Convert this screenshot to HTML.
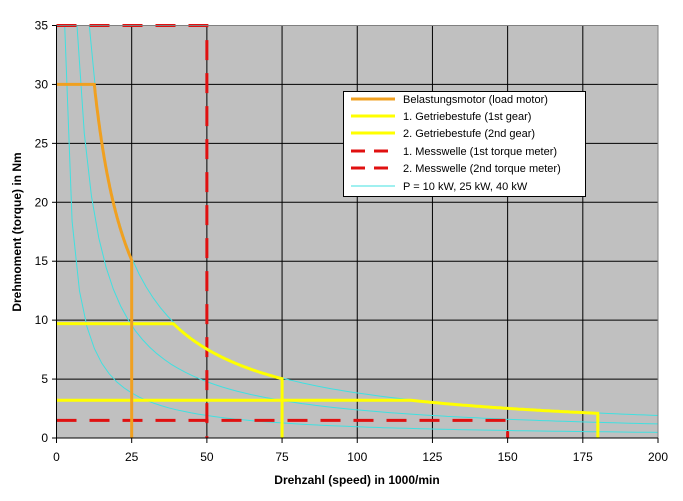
<!DOCTYPE html>
<html><head><meta charset="utf-8"><style>
html,body{margin:0;padding:0;background:#fff;}
svg{display:block;font-family:"Liberation Sans",Arial,sans-serif;}
</style></head><body>
<svg id="s" width="683" height="501" viewBox="0 0 683 501" xmlns="http://www.w3.org/2000/svg">
<rect x="56.5" y="25.5" width="601.5" height="412.5" fill="#c0c0c0"/>
<g id="grid" stroke="#000" stroke-width="1"></g>
<g id="curves" fill="none"></g>
<rect x="56.5" y="25.5" width="601.5" height="412.5" fill="none" stroke="#808080" stroke-width="1"/>
<g id="ticks" font-size="12" fill="#000"></g>
<text x="357" y="484" font-size="12" font-weight="bold" text-anchor="middle">Drehzahl (speed) in 1000/min</text>
<text transform="translate(21,232) rotate(-90)" font-size="12" font-weight="bold" text-anchor="middle">Drehmoment (torque) in Nm</text>
<g>
<rect x="343.5" y="91.5" width="242" height="105" fill="#fff" stroke="#000"/>
<line x1="351" y1="99" x2="395" y2="99" stroke="#f0a020" stroke-width="3"/>
<line x1="351" y1="116" x2="395" y2="116" stroke="#ffff00" stroke-width="3"/>
<line x1="351" y1="133" x2="395" y2="133" stroke="#ffff00" stroke-width="3"/>
<line x1="351" y1="151" x2="395" y2="151" stroke="#e01010" stroke-width="3" stroke-dasharray="14,9"/>
<line x1="351" y1="168" x2="395" y2="168" stroke="#e01010" stroke-width="3" stroke-dasharray="14,9"/>
<line x1="351" y1="186" x2="395" y2="186" stroke="#40e0e0" stroke-width="1"/>
<g font-size="11" fill="#000">
<text x="403" y="103">Belastungsmotor (load motor)</text>
<text x="403" y="120">1. Getriebestufe (1st gear)</text>
<text x="403" y="137">2. Getriebestufe (2nd gear)</text>
<text x="403" y="155">1. Messwelle (1st torque meter)</text>
<text x="403" y="172">2. Messwelle (2nd torque meter)</text>
<text x="403" y="190">P = 10 kW, 25 kW, 40 kW</text>
</g>
</g>
</svg>
<script>
var X=function(n){return 56.5+n*3.0075},Y=function(t){return 438-t*11.7857};
var ns='http://www.w3.org/2000/svg';
function el(p,tag,a){var e=document.createElementNS(ns,tag);for(var k in a)e.setAttribute(k,a[k]);p.appendChild(e);return e;}
var g=document.getElementById('grid'),c=document.getElementById('curves'),tk=document.getElementById('ticks');
for(var i=1;i<8;i++){el(g,'line',{x1:X(i*25),x2:X(i*25),y1:25.5,y2:438});}
for(var j=1;j<7;j++){el(g,'line',{x1:56.5,x2:658,y1:Y(j*5),y2:Y(j*5)});}
el(tk,'line',{x1:56.5,x2:658,y1:438,y2:438,stroke:'#000'});
el(tk,'line',{x1:56.5,x2:56.5,y1:25.5,y2:438,stroke:'#000'});
for(var i=0;i<=8;i++){el(tk,'line',{x1:X(i*25),x2:X(i*25),y1:438,y2:443,stroke:'#000'});var t=el(tk,'text',{x:X(i*25),y:461,'text-anchor':'middle'});t.textContent=i*25;}
for(var j=0;j<=7;j++){el(tk,'line',{x1:52,x2:56.5,y1:Y(j*5),y2:Y(j*5),stroke:'#000'});var t=el(tk,'text',{x:48,y:Y(j*5)+4,'text-anchor':'end'});t.textContent=j*5;}
var k=0.10472;
function hyp(P,n0,n1){var s=[];for(var n=n0;n<=n1+1e-9;n+=(n1-n0)/80){s.push(X(n).toFixed(1)+','+Y(P/(k*n)).toFixed(1));}return s;}
[10,25,40].forEach(function(P){var n0=P/(k*35);el(c,'polyline',{points:hyp(P,n0,200).join(' '),stroke:'#40e0e0','stroke-width':1});});
// red dashed
el(c,'polyline',{points:[X(0)+','+Y(35),X(50)+','+Y(35),X(50)+','+Y(0)].join(' '),stroke:'#e01010','stroke-width':3,'stroke-dasharray':'20,13'});
el(c,'polyline',{points:[X(0)+','+Y(1.5),X(150)+','+Y(1.5),X(150)+','+Y(0)].join(' '),stroke:'#e01010','stroke-width':3,'stroke-dasharray':'20,13'});
// yellow gears
var P=39.5;
var p1=[X(0)+','+Y(9.7)].concat(hyp(P,P/(k*9.7),75)).concat([X(75)+','+Y(0)]);
el(c,'polyline',{points:p1.join(' '),stroke:'#ffff00','stroke-width':3});
var p2=[X(0)+','+Y(3.2)].concat(hyp(P,P/(k*3.2),180)).concat([X(180)+','+Y(0)]);
el(c,'polyline',{points:p2.join(' '),stroke:'#ffff00','stroke-width':3});
// orange load motor
var p3=[X(0)+','+Y(30)].concat(hyp(P,P/(k*30),25)).concat([X(25)+','+Y(0)]);
el(c,'polyline',{points:p3.join(' '),stroke:'#f0a020','stroke-width':3});
</script>
</body></html>
